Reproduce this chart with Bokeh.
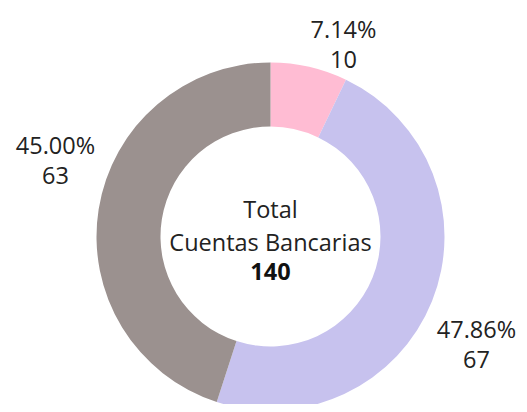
import math
from bokeh.plotting import figure
from bokeh.models import Range1d, ColumnDataSource
from bokeh.core.properties import value
from bokeh.embed import file_html
from bokeh.resources import INLINE

# ---- data ----
categories = ["A", "B", "C"]
counts = [10, 67, 63]
colors = ["#FFBCD3", "#C7C2EE", "#9B918F"]
center_title = ["Total", "Cuentas Bancarias"]

total = sum(counts)
pcts = [c / total * 100 for c in counts]

# ---- layout (picture pixels -> data units) ----
W, H = 519, 404
PAGE_H = 412
cx, cy = 270, PAGE_H - 236
r_out, r_in = 174, 110
FS = "23.5px"

p = figure(width=W, height=H, output_backend="svg", toolbar_location=None,
           x_range=Range1d(0, W), y_range=Range1d(PAGE_H - H, PAGE_H),
           min_border=0)
p.axis.visible = False
p.grid.visible = False
p.outline_line_color = None
p.background_fill_color = "white"
p.border_fill_color = "white"

# angles: start at 12 o'clock, go clockwise
starts, ends = [], []
acc = 0
for c in counts:
    a0 = math.pi / 2 - 2 * math.pi * acc / total
    acc += c
    a1 = math.pi / 2 - 2 * math.pi * acc / total
    starts.append(a0)
    ends.append(a1)

src = ColumnDataSource(dict(x=[cx] * len(counts), y=[cy] * len(counts),
                            start=starts, end=ends, color=colors))
p.annular_wedge(x="x", y="y", inner_radius=r_in, outer_radius=r_out,
                start_angle="start", end_angle="end", direction="clock",
                fill_color="color", line_color=None, source=src)

# label anchors (picture px): centre x, top-line centre y
label_pos = [(343, 28), (476, 328), (55, 144)]
line_gap = 31
lx, ly, lt = [], [], []
for (px, py), pc, c in zip(label_pos, pcts, counts):
    lx += [px, px]
    ly += [PAGE_H - py, PAGE_H - py - line_gap]
    lt += [f"{pc:.2f}%", f"{c}"]
p.text(x=lx, y=ly, text=lt, text_align="center", text_baseline="middle",
       text_font=value("Open Sans"), text_font_size=FS, text_color="#222222")

# center text
p.text(x=[cx, cx], y=[PAGE_H - 208, PAGE_H - 241], text=center_title,
       text_align="center", text_baseline="middle",
       text_font=value("Open Sans"), text_font_size=FS, text_color="#222222")
p.text(x=[cx], y=[PAGE_H - 271], text=[str(total)],
       text_align="center", text_baseline="middle",
       text_font=value("Open Sans"), text_font_size=FS, text_font_style="bold",
       text_color="#111111")

open("out.html", "w").write(file_html(p, INLINE))
